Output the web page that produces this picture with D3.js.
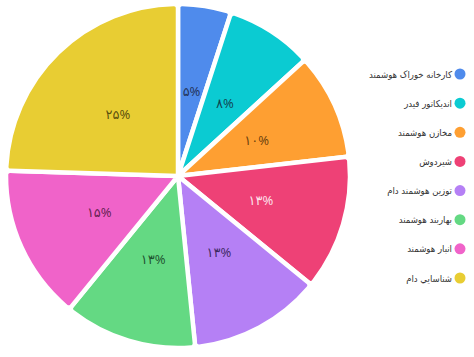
<!DOCTYPE html>
<html><head><meta charset="utf-8">
<script src="https://cdn.jsdelivr.net/npm/d3@7"></script>
<style>html,body{margin:0;padding:0;background:#fff;}svg{display:block;}</style>
</head><body>
<svg id="chart" width="474" height="357"></svg>
<script>
const categories = ["کارخانه خوراک هوشمند","اندیکاتور فیدر","مخازن هوشمند","شیردوش","توزین هوشمند دام","بهاربند هوشمند","انبار هوشمند","شناسايي دام"];
const values = [5, 8.2, 10, 12.7, 12.5, 12.5, 14.6, 24.5];
const colors = ["#4f8bec","#0bcbd2","#fe9f32","#ee4176","#b580f5","#64d983","#f063c9","#e8cd33"];
const labelColors = ["rgba(20,20,40,0.75)","rgba(20,20,40,0.75)","rgba(40,20,0,0.7)","rgba(255,255,255,0.85)","rgba(20,10,50,0.75)","rgba(10,40,20,0.75)","rgba(50,10,40,0.75)","rgba(40,35,0,0.75)"];

const svg = d3.select("#chart");
const cx = 178, cy = 176, R = 172;
const total = d3.sum(values);
const toFa = s => String(s).replace(/\d/g, d => "۰۱۲۳۴۵۶۷۸۹"[d]);
const pct = values.map(v => toFa(Math.round(v / total * 100)) + "%");

const pie = d3.pie().sort(null).value(d => d);
const arcs = pie(values);
const arc = d3.arc().innerRadius(0).outerRadius(R).cornerRadius(4);
const labelArc = d3.arc().innerRadius(0).outerRadius(173);

const g = svg.append("g").attr("transform", `translate(${cx},${cy})`);
g.selectAll("path").data(arcs).join("path")
  .attr("d", arc)
  .attr("fill", (d, i) => colors[i])
  .attr("stroke", "#fff").attr("stroke-width", 4.5).attr("stroke-linejoin", "round");

g.selectAll("text").data(arcs).join("text")
  .attr("transform", d => { const c = labelArc.centroid(d); return `translate(${c[0]},${c[1]})`; })
  .attr("text-anchor", "middle").attr("dominant-baseline", "central")
  .attr("direction", "ltr")
  .attr("font-family", "'Noto Sans', 'DejaVu Sans', sans-serif").attr("font-size", 13)
  .attr("fill", (d, i) => labelColors[i])
  .text((d, i) => pct[i]);

const legendY = d3.scalePoint().domain(d3.range(categories.length)).range([74, 278]);
const lg = svg.append("g");
const item = lg.selectAll("g").data(categories).join("g")
  .attr("transform", (d, i) => `translate(460,${legendY(i)})`);
item.append("circle").attr("r", 5.5).attr("fill", (d, i) => colors[i]);
item.append("text").attr("x", -8).attr("y", 0)
  .attr("text-anchor", "end").attr("dominant-baseline", "central")
  .attr("font-family", "'DejaVu Sans Condensed', 'DejaVu Sans', sans-serif").attr("font-size", 9.5)
  .attr("fill", "#333").text(d => d);
</script>
</body></html>
